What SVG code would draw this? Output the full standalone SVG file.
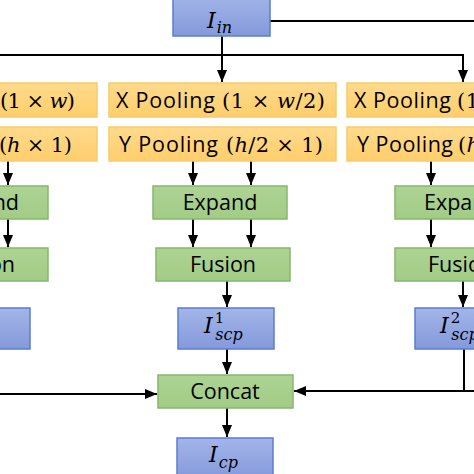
<svg xmlns="http://www.w3.org/2000/svg" width="474" height="474" viewBox="0 0 474 474">
<defs>
<linearGradient id="gBlue" x1="0" y1="0" x2="0" y2="1"><stop offset="0" stop-color="#A3B5E8"/><stop offset="1" stop-color="#8499DB"/></linearGradient>
<linearGradient id="gOrange" x1="0" y1="0" x2="0" y2="1"><stop offset="0" stop-color="#FFDA8C"/><stop offset="1" stop-color="#FFCE6C"/></linearGradient>
<linearGradient id="gGreen" x1="0" y1="0" x2="0" y2="1"><stop offset="0" stop-color="#ADD393"/><stop offset="1" stop-color="#A2CC86"/></linearGradient>
<marker id="ah" viewBox="0 0 12 10" refX="12" refY="5" markerWidth="12" markerHeight="10" markerUnits="userSpaceOnUse" orient="auto"><path d="M0,0 L12,5 L0,10 z" fill="#000"/></marker>
</defs>
<style>
.blue{fill:url(#gBlue);stroke:#5B7CD4;stroke-width:1.5}
.orange{fill:url(#gOrange);stroke:#F6CB6A;stroke-width:1.5}
.green{fill:url(#gGreen);stroke:#86B86A;stroke-width:1.5}
.sans{font-family:"Open Sans","Noto Sans",sans-serif;font-size:21.5px;fill:#000}
.math{font-family:"DejaVu Serif","Liberation Serif",serif;font-size:21px;fill:#000}
.mi{font-style:italic}
.mbig{font-family:"DejaVu Serif","Liberation Serif",serif;font-style:italic;font-size:22px;fill:#000}
.msub{font-family:"DejaVu Serif","Liberation Serif",serif;font-style:italic;font-size:16px}
.msup{font-family:"DejaVu Serif","Liberation Serif",serif;font-style:normal;font-size:15px}
.c{fill:none;stroke:#000;stroke-width:2}
.a{marker-end:url(#ah)}
</style>
<rect width="474" height="474" fill="#fff"/>

<g id="connectors">
<path class="c" d="M270,21 H474"/>
<path class="c a" d="M222,36 V82"/>
<path class="c a" d="M0,55 H463 V82"/>
<path class="c a" d="M8,161 V185"/>
<path class="c a" d="M8,219 V247"/>
<path class="c a" d="M193,161 V185"/>
<path class="c a" d="M251,161 V185"/>
<path class="c a" d="M193,219 V247"/>
<path class="c a" d="M251,219 V247"/>
<path class="c a" d="M227,281 V307"/>
<path class="c a" d="M227,349 V374"/>
<path class="c a" d="M227,408 V437"/>
<path class="c a" d="M431,161 V185"/>
<path class="c a" d="M431,219 V247"/>
<path class="c a" d="M463,281 V307"/>
<path class="c a" d="M0,394 H157"/>
<path class="c a" d="M464,349 V391 H294"/>
<path class="c" d="M464,391 H474"/>
</g>

<g id="I_in">
<rect class="blue" x="173" y="-5" width="97" height="41"/>
<text class="mbig" x="207" y="28">I<tspan class="msub" dx="1" dy="5">in</tspan></text>
</g>

<g id="xpool_left">
<rect class="orange" x="-140" y="83" width="237" height="34"/>
<text class="sans" x="-106" y="108" textLength="98" lengthAdjust="spacing">X Pooling</text>
<text class="math" x="0" y="108" textLength="75" lengthAdjust="spacing">(1 × <tspan class="mi">w</tspan>)</text>
</g>
<g id="ypool_left">
<rect class="orange" x="-140" y="127" width="237" height="34"/>
<text class="sans" x="-107" y="152" textLength="98" lengthAdjust="spacing">Y Pooling</text>
<text class="math" x="-1" y="152" textLength="73" lengthAdjust="spacing">(<tspan class="mi">h</tspan> × 1)</text>
</g>

<g id="xpool_mid">
<rect class="orange" x="109" y="83" width="227" height="34"/>
<text class="sans" x="116" y="108" textLength="99" lengthAdjust="spacing">X Pooling</text>
<text class="math" x="222" y="108" textLength="103" lengthAdjust="spacing">(1 × <tspan class="mi">w</tspan>/2)</text>
</g>
<g id="ypool_mid">
<rect class="orange" x="109" y="127" width="227" height="34"/>
<text class="sans" x="119" y="152" textLength="99" lengthAdjust="spacing">Y Pooling</text>
<text class="math" x="226" y="152" textLength="97" lengthAdjust="spacing">(<tspan class="mi">h</tspan>/2 × 1)</text>
</g>

<g id="xpool_right">
<rect class="orange" x="347" y="83" width="227" height="34"/>
<text class="sans" x="354" y="108" textLength="97" lengthAdjust="spacing">X Pooling</text>
<text class="math" x="457" y="108" textLength="103" lengthAdjust="spacing">(1 × <tspan class="mi">w</tspan>/4)</text>
</g>
<g id="ypool_right">
<rect class="orange" x="347" y="127" width="227" height="34"/>
<text class="sans" x="357" y="152" textLength="96" lengthAdjust="spacing">Y Pooling</text>
<text class="math" x="458" y="152" textLength="97" lengthAdjust="spacing">(<tspan class="mi">h</tspan>/4 × 1)</text>
</g>

<g id="expand_left">
<rect class="green" x="-90" y="186" width="138" height="33"/>
<text class="sans" x="19" y="210" text-anchor="end">Expand</text>
</g>
<g id="expand_mid">
<rect class="green" x="153" y="186" width="134" height="33"/>
<text class="sans" x="220" y="210" text-anchor="middle">Expand</text>
</g>
<g id="expand_right">
<rect class="green" x="395" y="186" width="134" height="33"/>
<text class="sans" x="424" y="210">Expand</text>
</g>

<g id="fusion_left">
<rect class="green" x="-86" y="248" width="134" height="33"/>
<text class="sans" x="15" y="272" text-anchor="end">Fusion</text>
</g>
<g id="fusion_mid">
<rect class="green" x="156" y="248" width="134" height="33"/>
<text class="sans" x="223" y="272" text-anchor="middle">Fusion</text>
</g>
<g id="fusion_right">
<rect class="green" x="395" y="248" width="134" height="33"/>
<text class="sans" x="428" y="272">Fusion</text>
</g>

<g id="I_scp_left">
<rect class="blue" x="-66" y="308" width="96" height="41"/>
</g>
<g id="I_scp1">
<rect class="blue" x="178" y="308" width="96" height="41"/>
<text class="mbig" x="204" y="333">I<tspan class="msup" dx="2" dy="-10">1</tspan><tspan class="msub" dx="-9" dy="17">scp</tspan></text>
</g>
<g id="I_scp2">
<rect class="blue" x="415" y="308" width="96" height="41"/>
<text class="mbig" x="440" y="333">I<tspan class="msup" dx="2" dy="-10">2</tspan><tspan class="msub" dx="-9" dy="17">scp</tspan></text>
</g>

<g id="concat">
<rect class="green" x="158" y="375" width="135" height="33"/>
<text class="sans" x="225" y="399" text-anchor="middle">Concat</text>
</g>

<g id="I_cp">
<rect class="blue" x="177" y="438" width="96" height="41"/>
<text class="mbig" x="209" y="462">I<tspan class="msub" dx="1" dy="6">cp</tspan></text>
</g>
</svg>
